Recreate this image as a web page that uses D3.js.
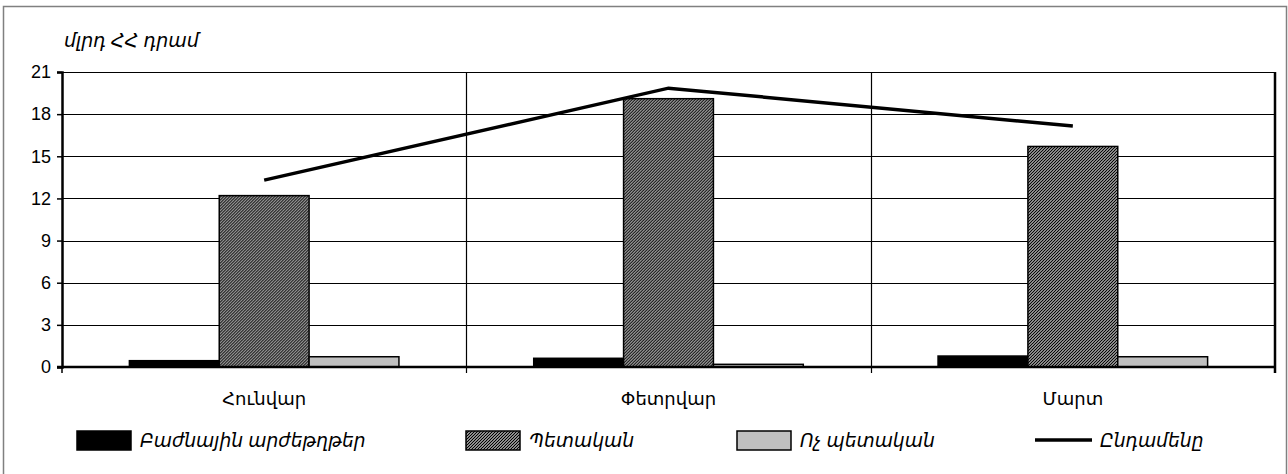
<!DOCTYPE html>
<html>
<head>
<meta charset="utf-8">
<script src="https://cdn.jsdelivr.net/npm/d3@7"></script>
<style>
  body { margin: 0; background: #fff; }
  svg { display: block; font-family: "Liberation Sans", "DejaVu Sans", sans-serif; }
</style>
</head>
<body>
<svg id="chart" width="1288" height="474"></svg>
<script>
const months = ["Հունվար", "Փետրվար", "Մարտ"];
const seriesNames = ["Բաժնային արժեթղթեր", "Պետական", "Ոչ պետական"];
const shares = [0.45, 0.62, 0.78];      // Բաժնային արժեթղթեր
const stateBonds = [12.2, 19.1, 15.7];  // Պետական
const nonState = [0.73, 0.19, 0.73];    // Ոչ պետական
const totals = [13.3, 19.85, 17.15];    // Ընդամենը
const totalName = "Ընդամենը";
const yTicks = [0, 3, 6, 9, 12, 15, 18, 21];
const unitLabel = "մլրդ ՀՀ դրամ";

const W = 1288, H = 474, M = {t: 72, r: 13, b: 107, l: 62};
const innerW = W - M.l - M.r, innerH = H - M.t - M.b;

const svg = d3.select("#chart");

// fine hatch for the state bonds series
const defs = svg.append("defs");
defs.append("pattern")
    .attr("id", "hatch")
    .attr("patternUnits", "userSpaceOnUse")
    .attr("width", 3).attr("height", 3)
  .call(p => {
    p.append("rect").attr("width", 3).attr("height", 3).attr("fill", "#fff");
    p.append("path").attr("d", "M0,3 L3,0 M-1,1 L1,-1 M2,4 L4,2")
      .attr("stroke", "#000").attr("stroke-width", 1.3);
  });

// outer frame
svg.append("rect")
    .attr("x", 3.5).attr("y", 6.5).attr("width", W - 5).attr("height", H + 10)
    .attr("fill", "none").attr("stroke", "#808080").attr("stroke-width", 1.5);

const g = svg.append("g").attr("transform", `translate(${M.l},${M.t})`);

const x0 = d3.scaleBand().domain(months).range([0, innerW]);
const groupW = x0.bandwidth() * 3 / 4.5; // gap width 150%
const x1 = d3.scaleBand().domain(seriesNames).range([0, groupW]);
const y = d3.scaleLinear().domain([0, 21]).range([innerH, 0]);

// horizontal gridlines
g.append("g")
  .selectAll("line").data(yTicks.filter(t => t > 0)).join("line")
    .attr("x1", 0).attr("x2", innerW)
    .attr("y1", d => Math.round(y(d)) + 0.5).attr("y2", d => Math.round(y(d)) + 0.5)
    .attr("stroke", "#000").attr("stroke-width", 1.2);

// category separators
g.append("g")
  .selectAll("line").data(months.slice(1)).join("line")
    .attr("x1", d => Math.round(x0(d)) + 0.5).attr("x2", d => Math.round(x0(d)) + 0.5)
    .attr("y1", 0).attr("y2", innerH + 6)
    .attr("stroke", "#000").attr("stroke-width", 1.2);

// right edge of plot
g.append("line")
    .attr("x1", innerW).attr("x2", innerW).attr("y1", y(21)).attr("y2", innerH + 6)
    .attr("stroke", "#000").attr("stroke-width", 2.5);

// bars
const rows = months.map((m, i) => ({
  month: m,
  vals: [
    {name: seriesNames[0], v: shares[i], fill: "#000"},
    {name: seriesNames[1], v: stateBonds[i], fill: "url(#hatch)"},
    {name: seriesNames[2], v: nonState[i], fill: "#c0c0c0"}
  ]
}));

g.append("g")
  .selectAll("g").data(rows).join("g")
    .attr("transform", d => `translate(${x0(d.month) + (x0.bandwidth() - groupW) / 2},0)`)
  .selectAll("rect").data(d => d.vals).join("rect")
    .attr("x", d => x1(d.name))
    .attr("width", x1.bandwidth())
    .attr("y", d => y(d.v))
    .attr("height", d => innerH - y(d.v))
    .attr("fill", d => d.fill)
    .attr("stroke", "#000").attr("stroke-width", 1.5);

// y axis
const yAxis = g.append("g")
    .call(d3.axisLeft(y).tickValues(yTicks).tickSize(5).tickPadding(6).tickFormat(d3.format("d")));
yAxis.select(".domain").attr("stroke-width", 2.5);
yAxis.selectAll("line").attr("stroke-width", 1.5);
yAxis.selectAll("text").attr("font-size", 18).attr("fill", "#000");

// x axis line
g.append("line")
    .attr("x1", -5).attr("x2", innerW).attr("y1", innerH).attr("y2", innerH)
    .attr("stroke", "#000").attr("stroke-width", 2.5);

// x tick mark at the y axis
g.append("line")
    .attr("x1", 0).attr("x2", 0).attr("y1", innerH).attr("y2", innerH + 6)
    .attr("stroke", "#000").attr("stroke-width", 1.5);

// category labels
g.append("g")
  .selectAll("text").data(months).join("text")
    .attr("x", d => x0(d) + x0.bandwidth() / 2)
    .attr("y", innerH + 38)
    .attr("text-anchor", "middle")
    .attr("font-size", 18)
    .text(d => d);

// total line
const line = d3.line()
    .x((d, i) => x0(months[i]) + x0.bandwidth() / 2)
    .y(d => y(d));
g.append("path")
    .datum(totals)
    .attr("d", line)
    .attr("fill", "none").attr("stroke", "#000").attr("stroke-width", 3.5);

// unit label
svg.append("text")
    .attr("x", 64).attr("y", 47)
    .attr("font-size", 19).attr("font-style", "italic")
    .text(unitLabel);

// legend
const legendItems = [
  {name: seriesNames[0], type: "rect", fill: "#000", x: 77},
  {name: seriesNames[1], type: "rect", fill: "url(#hatch)", x: 466},
  {name: seriesNames[2], type: "rect", fill: "#c0c0c0", x: 737},
  {name: totalName, type: "line", x: 1035}
];
const lg = svg.append("g").attr("transform", "translate(0,440)");
const li = lg.selectAll("g").data(legendItems).join("g")
    .attr("transform", d => `translate(${d.x},0)`);
li.filter(d => d.type === "rect").append("rect")
    .attr("x", 0).attr("y", -9).attr("width", 54).attr("height", 19)
    .attr("fill", d => d.fill).attr("stroke", "#000").attr("stroke-width", 1.5);
li.filter(d => d.type === "line").append("line")
    .attr("x1", 0).attr("x2", 57).attr("y1", 0).attr("y2", 0)
    .attr("stroke", "#000").attr("stroke-width", 3.5);
li.append("text")
    .attr("x", d => d.type === "line" ? 65 : 63)
    .attr("y", 7)
    .attr("font-size", 18.7).attr("font-style", "italic")
    .text(d => d.name);
</script>
</body>
</html>
